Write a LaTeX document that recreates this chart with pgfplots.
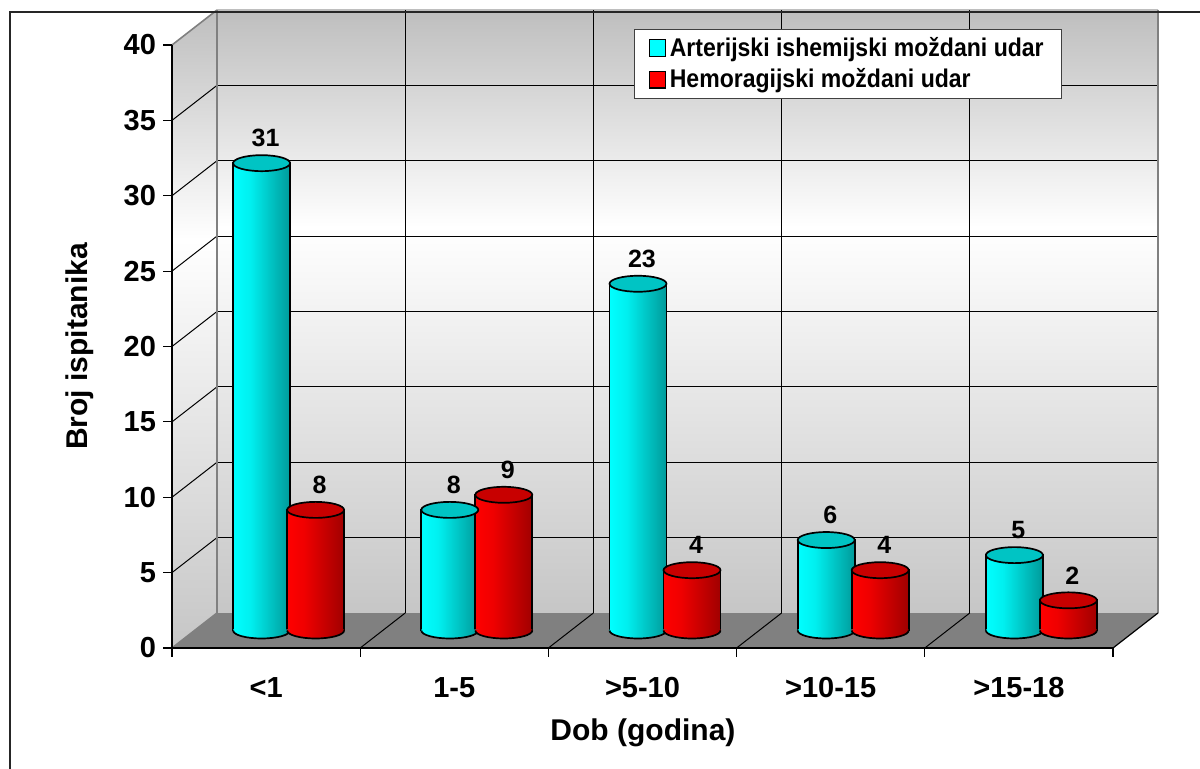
\documentclass[border=0pt]{standalone}
\usepackage{fontspec}
\setmainfont{Liberation Sans}
\newfontfamily\legfont[FakeStretch=0.9]{Liberation Sans}
\usepackage{pgfplots}
\usepackage{pgfplotstable}
\pgfplotsset{compat=1.18}
\definecolor{floorgray}{HTML}{808080}
\definecolor{walltop}{HTML}{BEBEBE}
\definecolor{wallbot}{HTML}{C6C6C6}
\definecolor{cyanA}{HTML}{00FFFF}
\definecolor{redB}{HTML}{FF0000}
\definecolor{capcyan}{HTML}{00C4C4}
\definecolor{darkcyan}{HTML}{009A9A}
\definecolor{capred}{HTML}{C80000}
\definecolor{darkred}{HTML}{A00000}
\definecolor{edgegray}{HTML}{808080}
\pgfdeclareverticalshading{wall}{100bp}{color(0bp)=(wallbot); color(25bp)=(wallbot); color(57bp)=(white); color(75bp)=(walltop); color(100bp)=(walltop)}
\pgfdeclarehorizontalshading{cylA}{100bp}{color(0bp)=(cyanA); color(25bp)=(cyanA); color(40bp)=(cyanA!94!black); color(75bp)=(darkcyan); color(100bp)=(darkcyan)}
\pgfdeclarehorizontalshading{cylB}{100bp}{color(0bp)=(redB); color(25bp)=(redB); color(40bp)=(redB!94!black); color(75bp)=(darkred); color(100bp)=(darkred)}
\pgfdeclareplotmark{captop}{\pgfpathellipse{\pgfpointorigin}{\pgfpoint{14.25pt}{0pt}}{\pgfpoint{0pt}{4pt}}\pgfusepathqfillstroke}
\pgfdeclareplotmark{botA}{%
  \pgfpathmoveto{\pgfpoint{-14.25pt}{0.6pt}}%
  \pgfpathlineto{\pgfpoint{-14.25pt}{0pt}}%
  \pgfpatharc{180}{360}{14.25pt and 4pt}%
  \pgfpathlineto{\pgfpoint{14.25pt}{0.6pt}}%
  \pgfpathclose
  \pgfshadepath{cylA}{0}\pgfusepath{discard}%
  \pgfpathmoveto{\pgfpoint{-14.25pt}{0pt}}%
  \pgfpatharc{180}{360}{14.25pt and 4pt}%
  \pgfusepath{stroke}}
\pgfdeclareplotmark{botB}{%
  \pgfpathmoveto{\pgfpoint{-14.25pt}{0.6pt}}%
  \pgfpathlineto{\pgfpoint{-14.25pt}{0pt}}%
  \pgfpatharc{180}{360}{14.25pt and 4pt}%
  \pgfpathlineto{\pgfpoint{14.25pt}{0.6pt}}%
  \pgfpathclose
  \pgfshadepath{cylB}{0}\pgfusepath{discard}%
  \pgfpathmoveto{\pgfpoint{-14.25pt}{0pt}}%
  \pgfpatharc{180}{360}{14.25pt and 4pt}%
  \pgfusepath{stroke}}

\pgfplotstableread{
x ais hem
0 31 8
1 8 9
2 23 4
3 6 4
4 5 2
}\data

\tikzset{lblstyle/.style={font=\bfseries\fontsize{12.5}{14}\selectfont, anchor=center, yshift=12.5pt, xshift=2pt, black}}
\pgfplotsset{
  cylA/.style={ybar, bar width=28.5pt, bar shift=-13.5pt, xshift=11.25pt, yshift=8.75pt,
    draw=black, line width=0.85pt, shading=cylA, shading angle=0,
    mark=captop, mark options={xshift=-13.5pt, fill=capcyan, draw=black, line width=0.85pt},
    nodes near coords, every node near coord/.append style={lblstyle}},
  cylB/.style={ybar, bar width=28.5pt, bar shift=13.5pt, xshift=11.25pt, yshift=8.75pt,
    draw=black, line width=0.85pt, shading=cylB, shading angle=0,
    mark=captop, mark options={xshift=13.5pt, fill=capred, draw=black, line width=0.85pt},
    nodes near coords, every node near coord/.append style={lblstyle}},
}

\begin{document}
\begin{tikzpicture}
\path[use as bounding box] (0pt,0pt) rectangle (600pt,384.5pt);
\begin{axis}[
  at={(86pt,60.5pt)}, anchor=south west,
  scale only axis, width=470.5pt, height=301.5pt,
  xmin=-0.5, xmax=4.5, ymin=0, ymax=40,
  axis x line*=bottom, axis y line*=left,
  axis line style={black, line width=0.8pt},
  axis on top, clip=false,
  xtick={0,...,4},
  xticklabels={{<1},{1-5},{>5-10},{>10-15},{>15-18}},
  minor xtick={-0.5,0.5,...,4.5},
  ytick={0,5,...,40},
  tick align=outside,
  major tick length=4.5pt, minor tick length=4.5pt,
  major x tick style={draw=none},
  minor x tick style={black, line width=0.6pt},
  major y tick style={black, line width=0.6pt},
  /pgf/number format/assume math mode=true,
  ticklabel style={font=\bfseries\fontsize{14.5}{17}\selectfont},
  xticklabel style={anchor=center, yshift=-15.5pt},
  xlabel={Dob (godina)}, ylabel={Broj ispitanika},
  label style={font=\bfseries\fontsize{15}{18}\selectfont},
  xlabel style={at={(0.5005,-0.141)}, anchor=center},
  ylabel style={at={(-0.0978,0.5)}, anchor=center},
  legend style={at={(0.491,1.0265)}, anchor=north west, draw=black!75, line width=0.6pt, fill=white,
    font=\legfont\bfseries\fontsize{12.8}{15}\selectfont, inner xsep=7pt, inner ysep=1.5pt, row sep=0pt,
    nodes={inner ysep=2.3pt}},
  legend cell align=left,
]
% floor
\fill[floorgray] (axis cs:-0.5,0) -- (axis cs:4.5,0) -- ([shift={(22.5pt,17.5pt)}]axis cs:4.5,0) -- ([shift={(22.5pt,17.5pt)}]axis cs:-0.5,0) -- cycle;
% left wall
\path[shading=wall] (axis cs:-0.5,0) -- ([shift={(22.5pt,17.5pt)}]axis cs:-0.5,0) -- ([shift={(22.5pt,17.5pt)}]axis cs:-0.5,40) -- (axis cs:-0.5,40) -- cycle;
% back wall
\path[shading=wall] ([shift={(22.5pt,17.5pt)}]axis cs:-0.5,0) rectangle ([shift={(22.5pt,17.5pt)}]axis cs:4.5,40);
% grid on back wall and left wall
\pgfplotsinvokeforeach{5,10,15,20,25,30,35}{
  \draw[black, line width=0.5pt] ([shift={(22.5pt,17.5pt)}]axis cs:-0.5,#1) -- ([shift={(22.5pt,17.5pt)}]axis cs:4.5,#1);
  \draw[black, line width=0.5pt] (axis cs:-0.5,#1) -- ([shift={(22.5pt,17.5pt)}]axis cs:-0.5,#1);
}
\pgfplotsinvokeforeach{0.5,1.5,2.5,3.5}{
  \draw[black, line width=0.5pt] ([shift={(22.5pt,17.5pt)}]axis cs:#1,0) -- ([shift={(22.5pt,17.5pt)}]axis cs:#1,40);
  \draw[black, line width=0.5pt] (axis cs:#1,0) -- ([shift={(22.5pt,17.5pt)}]axis cs:#1,0);
}
\draw[edgegray, line width=1pt] ([shift={(22.5pt,17.5pt)}]axis cs:-0.5,0) -- ([shift={(22.5pt,17.5pt)}]axis cs:-0.5,40);
\draw[edgegray, line width=1pt] ([shift={(22.5pt,17.5pt)}]axis cs:4.5,0) -- ([shift={(22.5pt,17.5pt)}]axis cs:4.5,40);
\draw[edgegray, line width=0.8pt] (axis cs:-0.5,40) -- ([shift={(22.5pt,17.5pt)}]axis cs:-0.5,40);
\draw[edgegray, line width=0.8pt] (axis cs:-0.5,0) -- ([shift={(22.5pt,17.5pt)}]axis cs:-0.5,0);
\draw[black, line width=0.6pt] (axis cs:4.5,0) -- ([shift={(22.5pt,17.5pt)}]axis cs:4.5,0);

% cylinders, one plot per bar so each bar gets its own shading
\pgfplotsinvokeforeach{0,1,2,3,4}{
  \addplot[cylA, forget plot, x filter/.expression={x==#1 ? x : nan}] table[x=x, y=ais] {\data};
  \addplot[cylB, forget plot, x filter/.expression={x==#1 ? x : nan}] table[x=x, y=hem] {\data};
}
% rounded bottoms of the cylinders
\addplot[only marks, forget plot, xshift=11.25pt, yshift=8.75pt, mark=botA,
  mark options={xshift=-13.5pt, draw=black, line width=0.85pt}] coordinates {(0,0) (1,0) (2,0) (3,0) (4,0)};
\addplot[only marks, forget plot, xshift=11.25pt, yshift=8.75pt, mark=botB,
  mark options={xshift=13.5pt, draw=black, line width=0.85pt}] coordinates {(0,0) (1,0) (2,0) (3,0) (4,0)};

\addlegendimage{legend image code/.code={\draw[fill=cyanA, draw=black, line width=0.6pt] (0pt,-4.2pt) rectangle (8pt,4.2pt);}}
\addlegendentry{Arterijski ishemijski moždani udar}
\addlegendimage{legend image code/.code={\draw[fill=redB, draw=black, line width=0.6pt] (0pt,-4.2pt) rectangle (8pt,4.2pt);}}
\addlegendentry{Hemoragijski moždani udar}
\end{axis}
\draw[black!85, line width=0.9pt] (5pt,-2pt) -- (5pt,378.5pt) -- (602pt,378.5pt);
\end{tikzpicture}
\end{document}
